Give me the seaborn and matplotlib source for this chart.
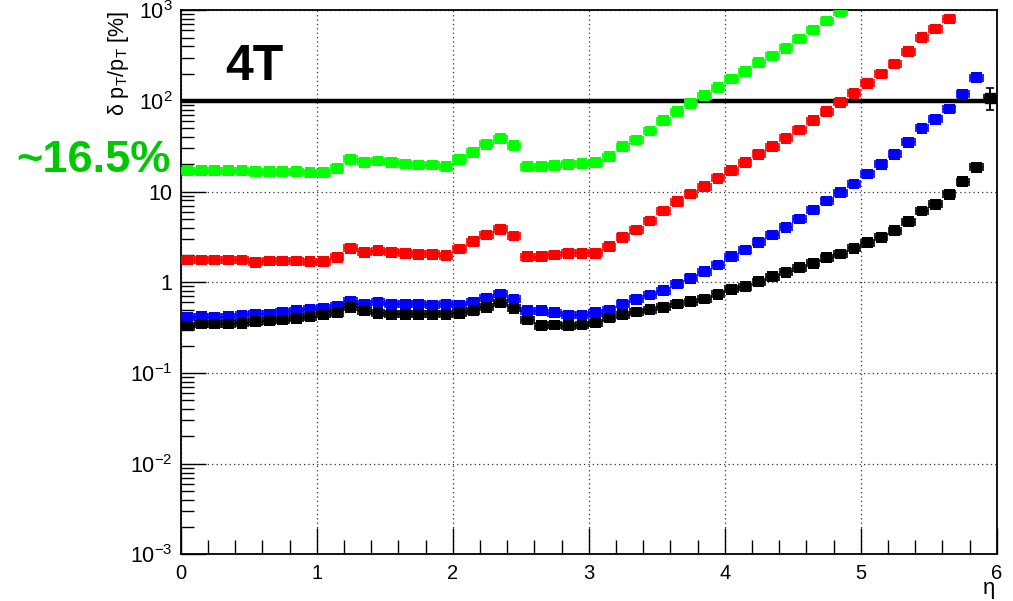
import numpy as np
import pandas as pd
import matplotlib
matplotlib.use("Agg")
import matplotlib.pyplot as plt
import matplotlib.ticker as mticker
import seaborn as sns

# ---------------- data ----------------
eta_bins = [0.05, 0.15, 0.25, 0.35, 0.45, 0.55, 0.65, 0.75, 0.85, 0.95,
            1.05, 1.15, 1.25, 1.35, 1.45, 1.55, 1.65, 1.75, 1.85, 1.95,
            2.05, 2.15, 2.25, 2.35, 2.45, 2.55, 2.65, 2.75, 2.85, 2.95,
            3.05, 3.15, 3.25, 3.35, 3.45, 3.55, 3.65, 3.75, 3.85, 3.95,
            4.05, 4.15, 4.25, 4.35, 4.45, 4.55, 4.65, 4.75, 4.85, 4.95,
            5.05, 5.15, 5.25, 5.35, 5.45, 5.55, 5.65, 5.75, 5.85]

green = [17.0, 17.0, 17.0, 17.0, 17.0, 16.6, 16.6, 16.6, 16.6, 16.2,
         16.2, 18.1, 22.7, 21.0, 21.8, 21.0, 20.1, 19.7, 19.7, 18.8,
         22.7, 27.1, 33.2, 38.3, 32.1, 18.8, 18.8, 19.3, 20.0, 20.3,
         20.8, 24.3, 31.3, 37.1, 46.6, 60.5, 76.0, 94.0, 114, 140,
         174, 210, 264, 313, 380, 481, 604, 760, 963]

red = [1.76, 1.76, 1.76, 1.76, 1.76, 1.66, 1.72, 1.72, 1.72, 1.69,
       1.69, 1.89, 2.37, 2.14, 2.23, 2.14, 2.09, 2.04, 2.04, 1.96,
       2.33, 2.80, 3.32, 3.84, 3.24, 1.92, 1.92, 2.00, 2.09, 2.09,
       2.09, 2.47, 3.13, 3.77, 4.74, 6.11, 7.74, 9.41, 11.3, 14.0,
       17.0, 20.8, 25.8, 31.3, 38.7, 47.8, 60.5, 76.0, 96.5, 121,
       156, 198, 255, 349, 497, 621, 800]

blue = [0.411, 0.418, 0.411, 0.418, 0.436, 0.447, 0.447, 0.467, 0.487, 0.503,
        0.516, 0.548, 0.622, 0.576, 0.601, 0.576, 0.576, 0.576, 0.562, 0.576,
        0.562, 0.601, 0.667, 0.743, 0.650, 0.487, 0.487, 0.462, 0.436, 0.436,
        0.462, 0.495, 0.576, 0.650, 0.724, 0.808, 0.958, 1.11, 1.31, 1.55,
        1.92, 2.27, 2.76, 3.32, 4.04, 4.99, 6.27, 7.88, 9.72, 12.1,
        15.6, 20.0, 25.8, 35.0, 49.9, 62.7, 81.5, 118, 180]

black = [0.330, 0.347, 0.347, 0.347, 0.353, 0.368, 0.374, 0.384, 0.401, 0.418,
         0.444, 0.462, 0.530, 0.487, 0.455, 0.444, 0.444, 0.444, 0.444, 0.444,
         0.455, 0.487, 0.530, 0.596, 0.516, 0.384, 0.332, 0.338, 0.332, 0.338,
         0.359, 0.405, 0.440, 0.470, 0.500, 0.530, 0.576, 0.611, 0.655, 0.738,
         0.837, 0.895, 1.02, 1.15, 1.29, 1.45, 1.62, 1.87, 2.05, 2.37,
         2.73, 3.13, 3.71, 4.66, 6.11, 7.24, 9.33, 12.9, 18.5]

# last (large-uncertainty) black bin
last_eta = [5.95]
last_val = [107.0]
last_lo = [79.4]
last_hi = [138.0]

series_names = ["green", "red", "blue", "black"]
series_values = [green, red, blue, black]
series_colors = {"green": "#00ff00", "red": "#ff0000", "blue": "#0000ff", "black": "#000000"}

xtick_labels = ["0", "1", "2", "3", "4", "5", "6"]
ytick_values = [1e-3, 1e-2, 1e-1, 1, 10, 1e2, 1e3]
ytick_labels = ["$10^{-3}$", "$10^{-2}$", "$10^{-1}$", "1", "10", "$10^{2}$", "$10^{3}$"]

# ---------------- style ----------------
sns.set_theme(style="white")
plt.rcParams["font.family"] = ["Liberation Sans", "DejaVu Sans"]
plt.rcParams["mathtext.fontset"] = "custom"
plt.rcParams["mathtext.rm"] = "Liberation Sans"
plt.rcParams["mathtext.it"] = "Liberation Sans:italic"
plt.rcParams["mathtext.bf"] = "Liberation Sans:bold"
plt.rcParams["text.color"] = "black"

frames = []
for name, vals in zip(series_names, series_values):
    frames.append(pd.DataFrame({"eta": eta_bins[:len(vals)], "val": vals, "series": name}))
df = pd.concat(frames, ignore_index=True)

fig = plt.figure(figsize=(10.13, 6.01), dpi=100)
ax = fig.add_axes([0.1784, 0.0775, 0.8056, 0.9055])

# horizontal error bars (bin width)
for name in series_names:
    sub = df[df["series"] == name]
    ax.errorbar(sub["eta"], sub["val"], xerr=0.046, fmt="none",
                ecolor=series_colors[name], elinewidth=1.3, capsize=3, capthick=1.2, zorder=3)

sns.scatterplot(data=df, x="eta", y="val", hue="series", palette=series_colors,
                marker="s", s=60, edgecolor="none", legend=False, ax=ax, zorder=4)

# last black bin with big error
ax.errorbar(last_eta, last_val,
            yerr=[[last_val[0] - last_lo[0]], [last_hi[0] - last_val[0]]],
            xerr=0.046, fmt="s", color="black", ms=7.7, elinewidth=1.4,
            capsize=3, capthick=1.2, zorder=5)

ax.axhline(100, color="black", lw=3.2, zorder=2)

ax.set_yscale("log")
ax.set_xlim(0, 6)
ax.set_ylim(1e-3, 1e3)

ax.xaxis.set_major_locator(mticker.FixedLocator(list(range(7))))
ax.xaxis.set_major_formatter(mticker.FixedFormatter(xtick_labels))
ax.xaxis.set_minor_locator(mticker.MultipleLocator(0.2))
ax.yaxis.set_major_locator(mticker.FixedLocator(ytick_values))
ax.yaxis.set_major_formatter(mticker.FixedFormatter(ytick_labels))
ax.yaxis.set_minor_locator(mticker.LogLocator(base=10, subs=np.arange(2, 10)))
ax.yaxis.set_minor_formatter(mticker.NullFormatter())

ax.tick_params(axis="x", which="major", direction="in", length=19, width=1.0,
               labelsize=14.5, pad=7, top=False, bottom=True, color="black", labelcolor="black")
ax.tick_params(axis="x", which="minor", direction="in", length=10, width=1.0,
               top=False, bottom=True, color="black")
ax.tick_params(axis="y", which="major", direction="in", length=18, width=1.0,
               labelsize=15.5, pad=6, left=True, right=False, color="black", labelcolor="black")
ax.tick_params(axis="y", which="minor", direction="in", length=9, width=1.0,
               left=True, right=False, color="black")

ax.grid(which="major", linestyle=(0, (1, 2.5)), color="#333333", linewidth=0.9)
ax.set_axisbelow(True)
for sp in ax.spines.values():
    sp.set_color("black")
    sp.set_linewidth(1.3)

ax.set_xlabel("")
ax.set_ylabel("")

fig.text(0.117, 0.982, r"δ p$_{\mathrm{T}}$/p$_{\mathrm{T}}$ [%]", rotation=90, ha="center", va="top",
         fontsize=15.5, color="black")
fig.text(0.982, 0.011, "η", ha="right", va="baseline", fontsize=16, color="black")

ax.text(0.054, 0.872, "4T", transform=ax.transAxes, fontsize=36, fontweight="bold",
        ha="left", va="baseline", color="black")
fig.text(0.016, 0.713, "~16.5%", fontsize=32.5, fontweight="bold", color="#00c800",
         ha="left", va="baseline")

fig.savefig("out.png", dpi=100)
